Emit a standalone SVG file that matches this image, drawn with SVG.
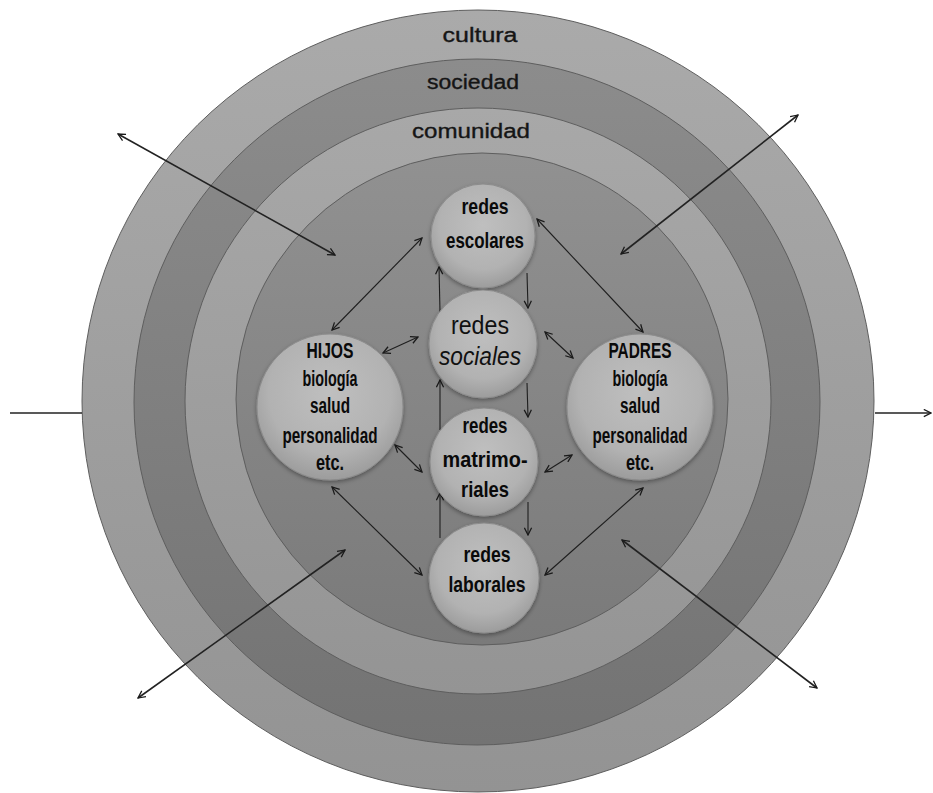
<svg xmlns="http://www.w3.org/2000/svg" width="933" height="793" viewBox="0 0 933 793">
<style>
.ring{stroke:#5e5e5e;stroke-width:1}
.node{fill:url(#gNode);stroke:#8c8c8c;stroke-width:1;filter:url(#sh)}
.t{font-family:"Liberation Sans",Arial,sans-serif;fill:#111;text-anchor:middle}
.n{font-size:22px;font-weight:bold;fill:#0a0a0a}
.lab{font-size:20px;fill:#151515;stroke:#151515;stroke-width:0.35}
.c{fill:none;stroke:#1e1e1e;stroke-width:1.1}
.co{fill:none;stroke:#222;stroke-width:1.6}
.d{marker-start:url(#ah);marker-end:url(#ah)}
.e{marker-end:url(#ah)}
</style>
<defs>
<marker id="ah" viewBox="0 0 10 10" refX="9" refY="5" markerWidth="9" markerHeight="9" markerUnits="userSpaceOnUse" orient="auto-start-reverse">
<path d="M1,1 L9,5 L1,9" fill="none" stroke="#1a1a1a" stroke-width="1.4"/>
</marker>
<linearGradient id="gCul" x1="0" y1="0" x2="0" y2="1"><stop offset="0" stop-color="#aaaaaa"/><stop offset="1" stop-color="#939393"/></linearGradient>
<linearGradient id="gSoc" x1="0" y1="0" x2="0" y2="1"><stop offset="0" stop-color="#8c8c8c"/><stop offset="1" stop-color="#737373"/></linearGradient>
<linearGradient id="gCom" x1="0" y1="0" x2="0" y2="1"><stop offset="0" stop-color="#a8a8a8"/><stop offset="1" stop-color="#949494"/></linearGradient>
<linearGradient id="gIn" x1="0" y1="0" x2="0" y2="1"><stop offset="0" stop-color="#919191"/><stop offset="1" stop-color="#7a7a7a"/></linearGradient>
<radialGradient id="gNode" cx="0.5" cy="0.4" r="0.6"><stop offset="0" stop-color="#bfbfbf"/><stop offset="0.7" stop-color="#b2b2b2"/><stop offset="1" stop-color="#9c9c9c"/></radialGradient>
<filter id="sh" x="-20%" y="-20%" width="140%" height="140%"><feDropShadow dx="0" dy="2" stdDeviation="2" flood-color="#000" flood-opacity="0.35"/></filter>
</defs>

<g id="cultura">
<ellipse class="ring" cx="478" cy="401" rx="396" ry="391" fill="url(#gCul)"/>
<text class="t lab" x="480" y="42" textLength="75" lengthAdjust="spacingAndGlyphs">cultura</text>
</g>
<g id="sociedad">
<circle class="ring" cx="477" cy="402" r="343" fill="url(#gSoc)"/>
<text class="t lab" x="473" y="89" textLength="92" lengthAdjust="spacingAndGlyphs">sociedad</text>
</g>
<g id="comunidad">
<circle class="ring" cx="478" cy="401" r="293" fill="url(#gCom)"/>
<text class="t lab" x="471" y="138" textLength="118" lengthAdjust="spacingAndGlyphs">comunidad</text>
</g>
<g id="familia">
<circle class="ring" cx="482" cy="399" r="246" fill="url(#gIn)"/>
</g>

<g id="connectors">
<line class="co" x1="10" y1="413" x2="82" y2="413"/>
<line class="co e" x1="875" y1="413" x2="931" y2="413"/>
<line class="co d" x1="118" y1="134" x2="335" y2="255"/>
<line class="co d" x1="798" y1="115" x2="621" y2="254"/>
<line class="co d" x1="138" y1="698" x2="345" y2="550"/>
<line class="co d" x1="817" y1="688" x2="622" y2="540"/>
<line class="c d" x1="422" y1="238" x2="332" y2="330"/>
<line class="c d" x1="537" y1="219" x2="643" y2="332"/>
<line class="c d" x1="383" y1="353" x2="418" y2="337"/>
<line class="c d" x1="545" y1="332" x2="573" y2="358"/>
<line class="c e" x1="440" y1="312" x2="439" y2="267"/>
<line class="c e" x1="527" y1="273" x2="528" y2="308"/>
<line class="c e" x1="440" y1="430" x2="440" y2="380"/>
<line class="c e" x1="527" y1="383" x2="528" y2="417"/>
<line class="c e" x1="440" y1="538" x2="440" y2="493"/>
<line class="c e" x1="528" y1="502" x2="528" y2="535"/>
<line class="c d" x1="395" y1="445" x2="422" y2="472"/>
<line class="c d" x1="545" y1="472" x2="572" y2="455"/>
<line class="c d" x1="332" y1="487" x2="422" y2="575"/>
<line class="c d" x1="545" y1="575" x2="643" y2="488"/>
</g>

<g id="redes-escolares">
<circle class="node" cx="483" cy="236" r="52"/>
<text class="t n" x="485" y="214" textLength="47" lengthAdjust="spacingAndGlyphs">redes</text>
<text class="t n" x="485" y="248" textLength="78" lengthAdjust="spacingAndGlyphs">escolares</text>
</g>
<g id="redes-sociales">
<circle class="node" cx="483" cy="344" r="54"/>
<text class="t" x="480" y="334" font-size="25" textLength="58" lengthAdjust="spacingAndGlyphs">redes</text>
<text class="t" x="480" y="365" font-size="25" font-style="italic" textLength="82" lengthAdjust="spacingAndGlyphs">sociales</text>
</g>
<g id="redes-matrimoniales">
<circle class="node" cx="484" cy="462" r="54"/>
<text class="t n" x="485" y="433" textLength="45" lengthAdjust="spacingAndGlyphs">redes</text>
<text class="t n" x="485" y="467" textLength="85" lengthAdjust="spacingAndGlyphs">matrimo-</text>
<text class="t n" x="485" y="497" textLength="48" lengthAdjust="spacingAndGlyphs">riales</text>
</g>
<g id="redes-laborales">
<circle class="node" cx="484" cy="578" r="55"/>
<text class="t n" x="487" y="562" textLength="47" lengthAdjust="spacingAndGlyphs">redes</text>
<text class="t n" x="487" y="592" textLength="77" lengthAdjust="spacingAndGlyphs">laborales</text>
</g>
<g id="hijos">
<circle class="node" cx="330" cy="407" r="73"/>
<text class="t n" x="330" y="358" textLength="47" lengthAdjust="spacingAndGlyphs">HIJOS</text>
<text class="t n" x="330" y="386" textLength="55" lengthAdjust="spacingAndGlyphs">biología</text>
<text class="t n" x="330" y="413" textLength="40" lengthAdjust="spacingAndGlyphs">salud</text>
<text class="t n" x="330" y="443" textLength="95" lengthAdjust="spacingAndGlyphs">personalidad</text>
<text class="t n" x="330" y="470" textLength="28" lengthAdjust="spacingAndGlyphs">etc.</text>
</g>
<g id="padres">
<circle class="node" cx="640" cy="407" r="73"/>
<text class="t n" x="640" y="358" textLength="63" lengthAdjust="spacingAndGlyphs">PADRES</text>
<text class="t n" x="640" y="386" textLength="55" lengthAdjust="spacingAndGlyphs">biología</text>
<text class="t n" x="640" y="413" textLength="40" lengthAdjust="spacingAndGlyphs">salud</text>
<text class="t n" x="640" y="443" textLength="95" lengthAdjust="spacingAndGlyphs">personalidad</text>
<text class="t n" x="640" y="470" textLength="28" lengthAdjust="spacingAndGlyphs">etc.</text>
</g>
</svg>
